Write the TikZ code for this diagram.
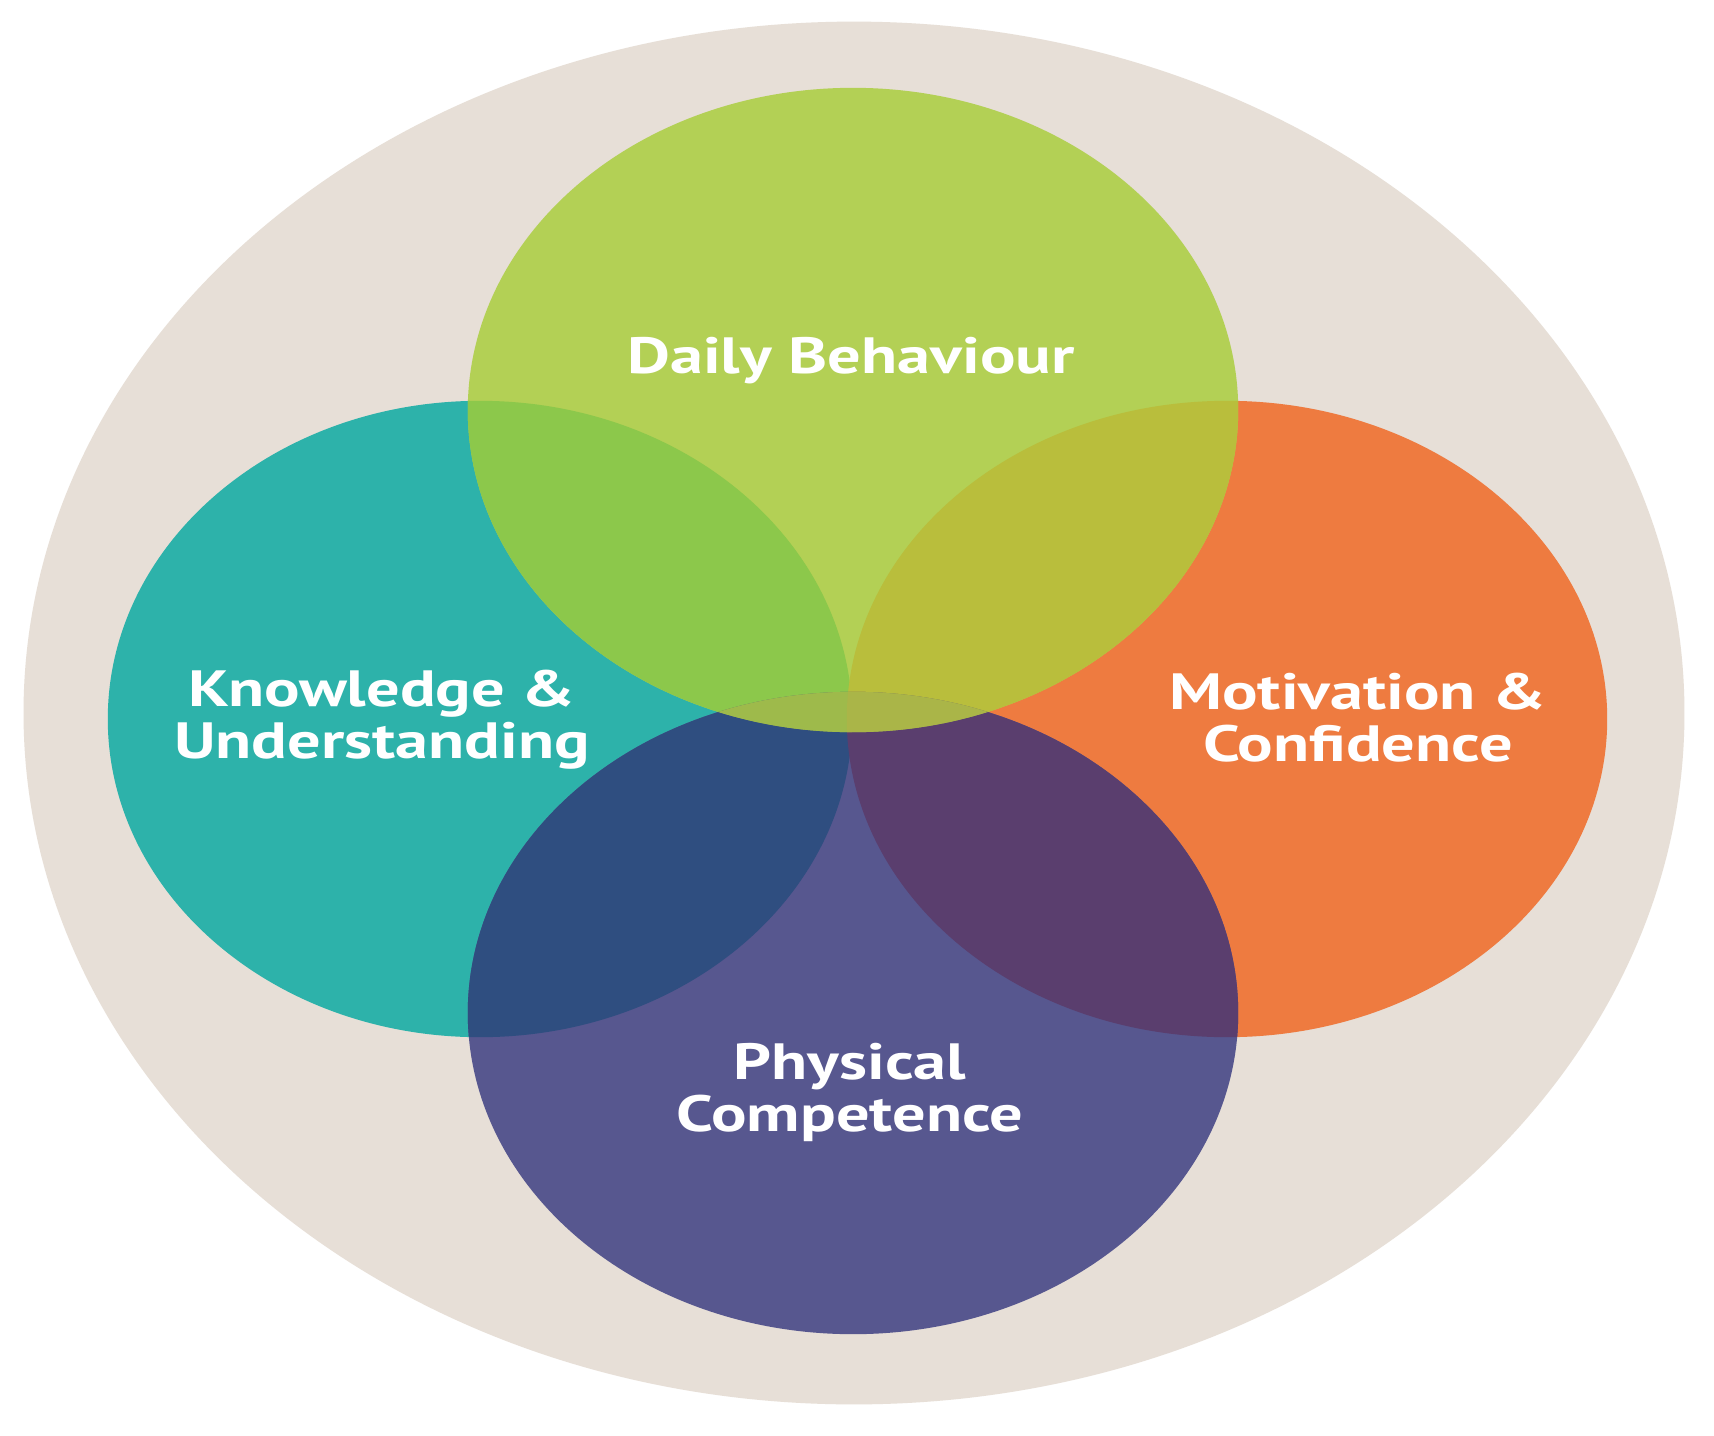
\documentclass[tikz,border=0pt]{standalone}
\usepackage{fontspec}
\newfontfamily\lblfont{PT Sans}[FakeStretch=1.30]
\definecolor{cBeige}{HTML}{E7DFD7}
\definecolor{cGreen}{HTML}{B3D055}
\definecolor{cTeal}{HTML}{2DB2AA}
\definecolor{cOrange}{HTML}{EE7B40}
\definecolor{cPurple}{HTML}{57578F}
\definecolor{cGT}{HTML}{8CC84B}
\definecolor{cGO}{HTML}{B9BE3C}
\definecolor{cPT}{HTML}{2F4E80}
\definecolor{cPO}{HTML}{5A3E6E}
\definecolor{cGP}{HTML}{A4B84A}
\definecolor{cGPT}{HTML}{9EBA4B}
\definecolor{cGPO}{HTML}{AAB548}
\begin{document}
\begin{tikzpicture}[x=0.01cm,y=-0.01cm,
  lbl/.style={text=white, font=\lblfont\bfseries\fontsize{14.5pt}{14.8pt}\selectfont, align=center, inner sep=0pt}]
\useasboundingbox (0,0) rectangle (1714,1436);
\fill[white] (0,0) rectangle (1714,1436);
\def\ringpath{(854,713) ellipse [x radius=8.30cm, y radius=6.91cm]}
\def\gpath{(853,410) ellipse [x radius=3.85cm, y radius=3.22cm]}
\def\tpath{(480,719) ellipse [x radius=3.72cm, y radius=3.18cm]}
\def\opath{(1227,719) ellipse [x radius=3.80cm, y radius=3.18cm]}
\def\ppath{(853,1013) ellipse [x radius=3.85cm, y radius=3.21cm]}
% outer ring
\fill[cBeige] \ringpath;
% four circles
\fill[cTeal] \tpath;
\fill[cOrange] \opath;
\fill[cGreen] \gpath;
\fill[cPurple] \ppath;
% pairwise overlaps
\begin{scope}
  \clip \tpath;
  \fill[cGT] \gpath;
  \fill[cPT] \ppath;
\end{scope}
\begin{scope}
  \clip \opath;
  \fill[cGO] \gpath;
  \fill[cPO] \ppath;
\end{scope}
% central lens
\begin{scope}
  \clip \gpath;
  \fill[cGP] \ppath;
  \begin{scope}
    \clip \tpath;
    \fill[cGPT] \ppath;
  \end{scope}
  \begin{scope}
    \clip \opath;
    \fill[cGPO] \ppath;
  \end{scope}
\end{scope}
% labels
\node[lbl, anchor=base] (daily) at (851,373) {Daily Behaviour};
\node[lbl] (know) at (382,720) {Knowledge \&\\Understanding};
\node[lbl] (moti) at (1358,718) {Motivation \&\\Confidence};
\node[lbl] (phys) at (850,1092) {Physical\\Competence};
\end{tikzpicture}
\end{document}
